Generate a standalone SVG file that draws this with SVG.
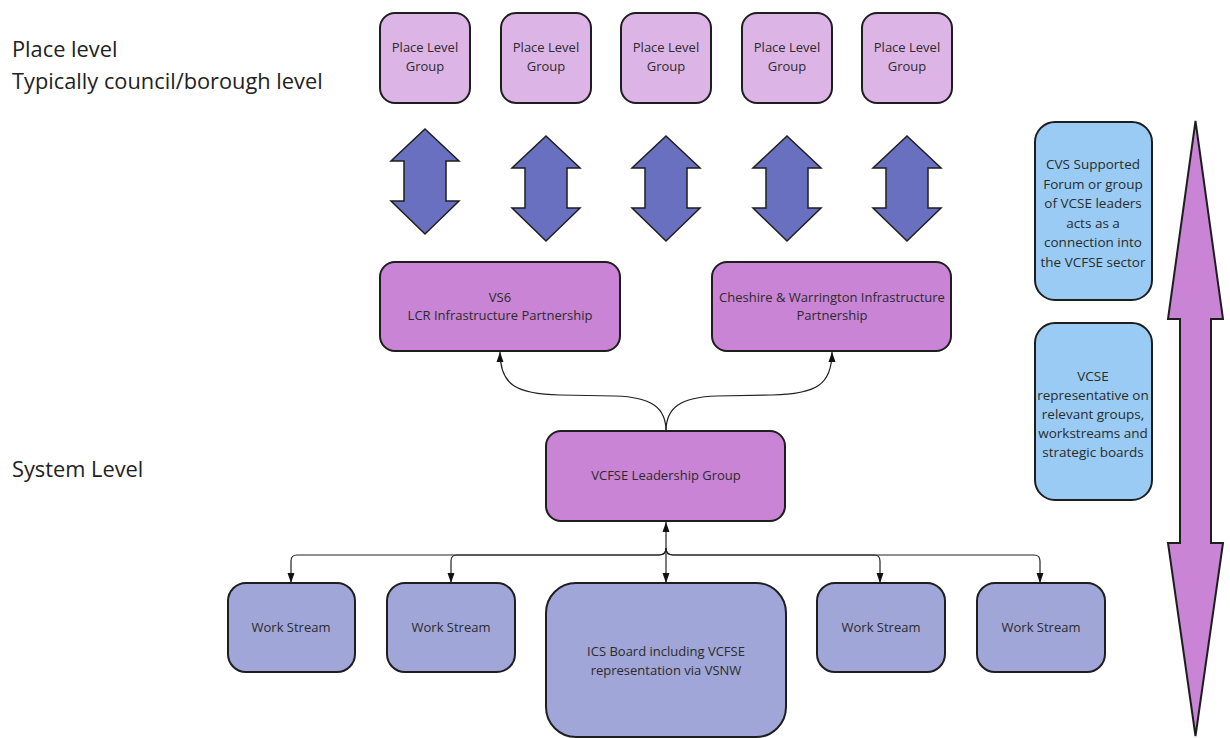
<svg xmlns="http://www.w3.org/2000/svg" width="1230" height="738" viewBox="0 0 1230 738">
  <defs>
    <style>
      text { font-family: "Open Sans", "Liberation Sans", sans-serif; fill: #2b2b2b; text-anchor: middle; }
      .lbl { font-size: 21.8px; text-anchor: start; fill: #222; }
      .t { font-size: 13px; }
      .tb { font-size: 13.5px; }
      .box { stroke: #1e1e1e; stroke-width: 2; }
      .place { fill: #ddb4e6; }
      .part { fill: #c984d5; }
      .work { fill: #a0a6d7; }
      .info { fill: #99cbf4; }
      .dbl { fill: #6a70c0; stroke: #1e1e1e; stroke-width: 1.5; stroke-linejoin: miter; }
      .big { fill: #c984d5; stroke: #1e1e1e; stroke-width: 2; }
      .con { fill: none; stroke: #222; stroke-width: 1.2; }
    </style>
    <marker id="ah" viewBox="0 0 10 10" refX="10" refY="5" markerWidth="10" markerHeight="10" markerUnits="userSpaceOnUse" orient="auto-start-reverse">
      <path d="M0,1.5 L10,5 L0,8.5 Z" fill="#111"/>
    </marker>
  </defs>
  <rect width="1230" height="738" fill="#ffffff"/>

  <!-- side labels -->
  <text class="lbl" x="12" y="57">Place level</text>
  <text class="lbl" x="12" y="89">Typically council/borough level</text>
  <text class="lbl" x="12" y="477">System Level</text>

  <!-- place level groups -->
  <g id="place1"><rect class="box place" x="380" y="13" width="90" height="90" rx="15"/><text class="t" x="425" y="52">Place Level</text><text class="t" x="425" y="71">Group</text></g>
  <g id="place2"><rect class="box place" x="501" y="13" width="90" height="90" rx="15"/><text class="t" x="546" y="52">Place Level</text><text class="t" x="546" y="71">Group</text></g>
  <g id="place3"><rect class="box place" x="621" y="13" width="90" height="90" rx="15"/><text class="t" x="666" y="52">Place Level</text><text class="t" x="666" y="71">Group</text></g>
  <g id="place4"><rect class="box place" x="742" y="13" width="90" height="90" rx="15"/><text class="t" x="787" y="52">Place Level</text><text class="t" x="787" y="71">Group</text></g>
  <g id="place5"><rect class="box place" x="862" y="13" width="90" height="90" rx="15"/><text class="t" x="907" y="52">Place Level</text><text class="t" x="907" y="71">Group</text></g>

  <!-- two-way block arrows between place and system levels -->
  <g id="link1"><path class="dbl" transform="translate(425,129)" d="M0,0 L34,32 L21,32 L21,72 L34,72 L0,105 L-34,72 L-21,72 L-21,32 L-34,32 Z"/></g>
  <g id="link2"><path class="dbl" transform="translate(546,136)" d="M0,0 L34,32 L21,32 L21,72 L34,72 L0,105 L-34,72 L-21,72 L-21,32 L-34,32 Z"/></g>
  <g id="link3"><path class="dbl" transform="translate(666,136)" d="M0,0 L34,32 L21,32 L21,72 L34,72 L0,105 L-34,72 L-21,72 L-21,32 L-34,32 Z"/></g>
  <g id="link4"><path class="dbl" transform="translate(787,136)" d="M0,0 L34,32 L21,32 L21,72 L34,72 L0,105 L-34,72 L-21,72 L-21,32 L-34,32 Z"/></g>
  <g id="link5"><path class="dbl" transform="translate(907,136)" d="M0,0 L34,32 L21,32 L21,72 L34,72 L0,105 L-34,72 L-21,72 L-21,32 L-34,32 Z"/></g>

  <!-- infrastructure partnerships -->
  <g id="vs6"><rect class="box part" x="380" y="262" width="240" height="89" rx="15"/><text class="t" x="500" y="302">VS6</text><text class="t" x="500" y="320">LCR Infrastructure Partnership</text></g>
  <g id="cheshire"><rect class="box part" x="712" y="262" width="239" height="89" rx="15"/><text class="t" x="832" y="302">Cheshire &amp; Warrington Infrastructure</text><text class="t" x="832" y="320">Partnership</text></g>

  <!-- leadership group -->
  <g id="leadership"><rect class="box part" x="546" y="431" width="239" height="90" rx="15"/><text class="t" x="666" y="480">VCFSE Leadership Group</text></g>

  <!-- work streams and ICS board -->
  <g id="ws1"><rect class="box work" x="228" y="583" width="127" height="89" rx="18"/><text class="t" x="291" y="632">Work Stream</text></g>
  <g id="ws2"><rect class="box work" x="387" y="583" width="128" height="89" rx="18"/><text class="t" x="451" y="632">Work Stream</text></g>
  <g id="ics"><rect class="box work" x="546" y="583" width="240" height="154" rx="30"/><text class="t" x="666" y="656">ICS Board including VCFSE</text><text class="t" x="666" y="675">representation via VSNW</text></g>
  <g id="ws3"><rect class="box work" x="817" y="583" width="128" height="89" rx="18"/><text class="t" x="881" y="632">Work Stream</text></g>
  <g id="ws4"><rect class="box work" x="977" y="583" width="128" height="89" rx="18"/><text class="t" x="1041" y="632">Work Stream</text></g>

  <!-- right-hand notes -->
  <g id="cvs"><rect class="box info" x="1035" y="122" width="117" height="178" rx="20"/>
    <text class="tb" x="1093" y="169">CVS Supported</text>
    <text class="tb" x="1093" y="189">Forum or group</text>
    <text class="tb" x="1093" y="208">of VCSE leaders</text>
    <text class="tb" x="1093" y="228">acts as a</text>
    <text class="tb" x="1093" y="247">connection into</text>
    <text class="tb" x="1093" y="267">the VCFSE sector</text>
  </g>
  <g id="vcse"><rect class="box info" x="1035" y="323" width="117" height="177" rx="20"/>
    <text class="tb" x="1093" y="381">VCSE</text>
    <text class="tb" x="1093" y="400">representative on</text>
    <text class="tb" x="1093" y="419">relevant groups,</text>
    <text class="tb" x="1093" y="438">workstreams and</text>
    <text class="tb" x="1093" y="457">strategic boards</text>
  </g>

  <!-- vertical span arrow -->
  <g id="span"><path class="big" d="M1195.5,121 L1223,319 L1211,319 L1211,543 L1223,543 L1195.5,736 L1168,543 L1180,543 L1180,319 L1168,319 Z"/></g>

  <!-- connectors -->
  <g id="connectors">
    <path class="con" d="M666,431 C666,408 652,397 615,396 L560,395 C516,394 500,385 500,352" marker-end="url(#ah)"/>
    <path class="con" d="M666,431 C666,408 680,397 717,396 L772,395 C816,394 832,385 832,352" marker-end="url(#ah)"/>
    <path class="con" d="M666,522 L666,583" marker-start="url(#ah)" marker-end="url(#ah)"/>
    <path class="con" d="M666,548 Q666,555 659,555 L297,555 Q291,555 291,561 L291,583" marker-end="url(#ah)"/>
    <path class="con" d="M666,548 Q666,555 659,555 L457,555 Q451,555 451,561 L451,583" marker-end="url(#ah)"/>
    <path class="con" d="M666,548 Q666,555 673,555 L874,555 Q880,555 880,561 L880,583" marker-end="url(#ah)"/>
    <path class="con" d="M666,548 Q666,555 673,555 L1034,555 Q1040,555 1040,561 L1040,583" marker-end="url(#ah)"/>
  </g>
</svg>
